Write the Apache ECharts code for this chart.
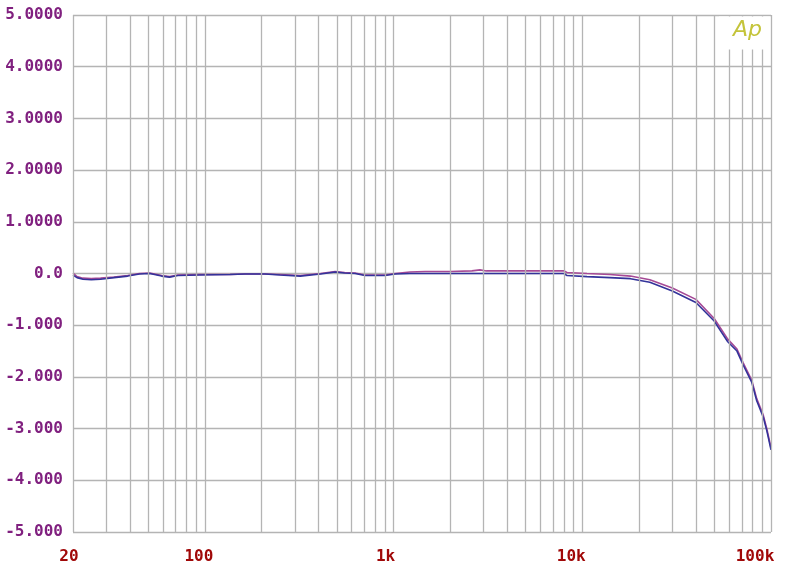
<!DOCTYPE html>
<html>
<head>
<meta charset="utf-8">
<script src="https://cdn.jsdelivr.net/npm/echarts@6/dist/echarts.min.js"></script>
<style>
html,body{margin:0;padding:0;background:#fff;}
#chart{width:800px;height:572px;}
</style>
</head>
<body>
<div id="chart"></div>
<script>
// Frequency points (Hz)
const freqHz = [20, 21, 22.6, 25, 28, 33, 39, 45, 51, 59, 65, 72, 94, 136, 163, 208, 250, 320, 410, 490, 550, 625, 705, 800, 900, 1020, 1220, 1470, 2000, 2600, 2870, 3100, 4000, 6000, 8000, 8300, 10600, 14000, 18000, 22800, 30000, 40000, 50000, 59000, 66000, 71000, 79000, 84000, 91000, 95000, 100000];
// Channel A (purple) level, dB
const chA = [0.01, -0.06, -0.09, -0.10, -0.09, -0.07, -0.04, 0.0, 0.01, -0.04, -0.06, -0.03, -0.02, -0.02, -0.01, -0.01, -0.02, -0.04, 0.0, 0.04, 0.02, 0.01, -0.03, -0.03, -0.03, 0.0, 0.03, 0.04, 0.04, 0.05, 0.07, 0.05, 0.05, 0.05, 0.05, 0.02, 0.0, -0.02, -0.05, -0.12, -0.28, -0.50, -0.87, -1.27, -1.46, -1.72, -2.06, -2.42, -2.74, -3.00, -3.37];
// Channel B (blue) level, dB
const chB = [-0.03, -0.08, -0.11, -0.12, -0.11, -0.08, -0.05, -0.01, 0.0, -0.05, -0.07, -0.04, -0.03, -0.02, -0.01, -0.01, -0.03, -0.05, -0.01, 0.03, 0.01, 0.0, -0.04, -0.04, -0.04, -0.01, 0.0, 0.0, 0.0, 0.0, 0.0, 0.0, 0.0, 0.0, 0.0, -0.04, -0.06, -0.08, -0.10, -0.17, -0.34, -0.56, -0.92, -1.32, -1.50, -1.76, -2.10, -2.46, -2.78, -3.04, -3.41];
// Vertical grid lines (Hz)
const xGridHz = [20, 30, 40, 50, 60, 70, 80, 90, 100, 200, 300, 400, 500, 600, 700, 800, 900, 1000, 2000, 3000, 4000, 5000, 6000, 7000, 8000, 9000, 10000, 20000, 30000, 40000, 50000, 60000, 70000, 80000, 90000, 100000];
// Axis tick labels
const xTickValues = [20, 100, 1000, 10000, 100000];
const xTickLabels = ['20', '100', '1k', '10k', '100k'];
const yTickValues = [-5, -4, -3, -2, -1, 0, 1, 2, 3, 4, 5];
const yTickLabels = ['-5.000', '-4.000', '-3.000', '-2.000', '-1.000', '0.0', '1.0000', '2.0000', '3.0000', '4.0000', '5.0000'];

const toXY = (ys) => freqHz.map((f, i) => [f, ys[i]]);
const gridColor = '#b4b4b4';
const xLabelShift = [4, 6, 8, 11, 16];

const rich = {};
xLabelShift.forEach((s, i) => {
  rich['s' + i] = {
    fontFamily: 'DejaVu Sans Mono', fontSize: 16, fontWeight: 'bold', color: '#a00808',
    padding: [0, 2 * s, 0, 0]
  };
});

const chart = echarts.init(document.getElementById('chart'), null, {renderer: 'canvas'});
chart.setOption({
  animation: false,
  backgroundColor: '#ffffff',
  grid: {left: 73, right: 29, top: 15, bottom: 40, containLabel: false},
  xAxis: {
    type: 'log', logBase: 10, min: 20, max: 100000,
    axisLine: {show: false}, axisTick: {show: false},
    splitLine: {show: false},
    axisLabel: {
      margin: 17,
      showMinLabel: true, showMaxLabel: true,
      formatter: (v) => {
        let idx = -1;
        xTickValues.forEach((t, i) => { if (Math.abs(Math.log10(v) - Math.log10(t)) < 0.01) idx = i; });
        if (idx < 0) return '';
        return '{s' + idx + '|' + xTickLabels[idx] + '}';
      },
      rich: rich
    }
  },
  yAxis: {
    type: 'value', min: -5, max: 5, interval: 1,
    axisLine: {show: false}, axisTick: {show: false},
    splitLine: {show: true, lineStyle: {color: gridColor, width: 1.3}},
    axisLabel: {
      margin: 10,
      fontFamily: 'DejaVu Sans Mono', fontSize: 16, fontWeight: 'bold', color: '#80207f',
      formatter: (v) => {
        const i = yTickValues.indexOf(Math.round(v));
        return i >= 0 ? yTickLabels[i] : '';
      }
    }
  },
  graphic: [
    {type: 'rect', z: 100, shape: {x: 719, y: 16.5, width: 51, height: 33}, style: {fill: '#ffffff'}},
    {type: 'text', z: 101, left: 733, top: 19, style: {text: 'Ap', font: 'italic 300 22px "DejaVu Sans"', fill: '#c4c43a'}}
  ],
  series: [
    {
      name: 'grid', type: 'line', data: [], silent: true,
      markLine: {
        silent: true, symbol: 'none', animation: false,
        label: {show: false},
        lineStyle: {color: gridColor, width: 1.3, type: 'solid'},
        data: xGridHz.map((f) => ({xAxis: f}))
      }
    },
    {
      name: 'A', type: 'line', data: toXY(chA), showSymbol: false, smooth: false,
      lineStyle: {color: '#a64a96', width: 1.6}, z: 3
    },
    {
      name: 'B', type: 'line', data: toXY(chB), showSymbol: false, smooth: false,
      lineStyle: {color: '#33339a', width: 1.6}, z: 4
    }
  ]
});
</script>
</body>
</html>
